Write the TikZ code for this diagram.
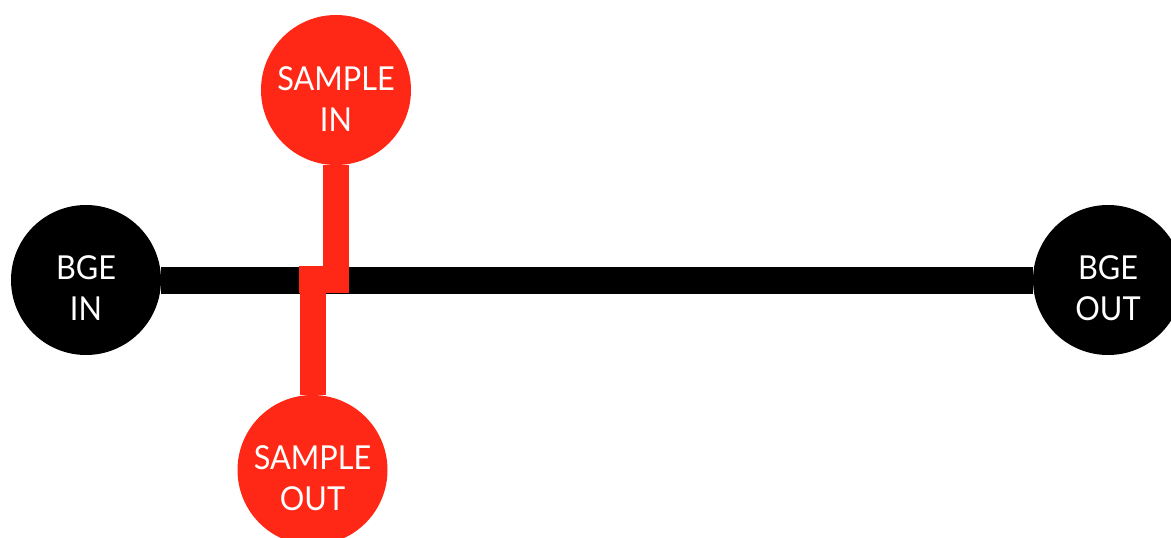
\documentclass[tikz,border=0pt]{standalone}
\usepackage{fontspec}
\setmainfont{Lato}[FakeStretch=0.93]
\definecolor{sred}{RGB}{255,40,22}
\begin{document}
\begin{tikzpicture}[x=1pt,y=-1pt,
  port/.style={circle,minimum size=150pt,inner sep=0pt},
  bport/.style={port,fill=black},
  rport/.style={port,fill=sred},
  lbl/.style={text=white,align=center,font=\fontsize{33}{41}\selectfont},
  bline/.style={line width=27pt,black},
  rline/.style={line width=26pt,sred}]
\useasboundingbox (0,0) rectangle (1171,538);
\node[bport] (bin) at (86,280) {};
\node[bport] (bout) at (1108,280) {};
\node[rport] (sin) at (336,90) {};
\node[rport] (sout) at (312.5,470) {};
\coordinate (j1) at (336,293);
\coordinate (j2) at (312.5,266);
\coordinate (ja) at (299,279.5);
\coordinate (jb) at (349,279.5);
\draw[bline] (bin) -- (bout);
\draw[rline] (sin) -- (j1);
\draw[rline] (sout) -- (j2);
\draw[rline,line width=27pt] (ja) -- (jb);
\node[lbl] (tbin) at ([yshift=-8pt]bin) {BGE\\IN};
\node[lbl] (tbout) at ([yshift=-8pt]bout) {BGE\\OUT};
\node[lbl] (tsin) at ([yshift=-9pt]sin) {SAMPLE\\IN};
\node[lbl] (tsout) at ([yshift=-8pt]sout) {SAMPLE\\OUT};
\end{tikzpicture}
\end{document}
